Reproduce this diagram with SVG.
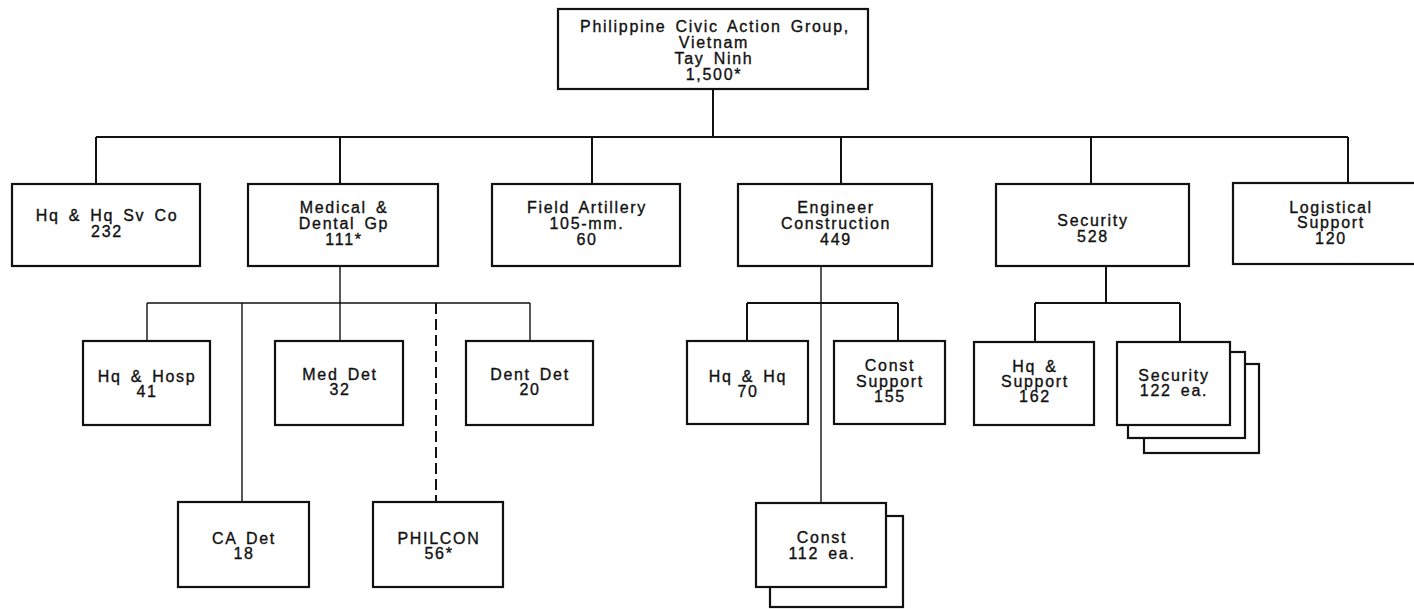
<svg xmlns="http://www.w3.org/2000/svg" width="1414" height="609" viewBox="0 0 1414 609">
<style>
.box{fill:#fff;stroke:#111;stroke-width:2.2}
.ln{fill:none;stroke:#111;stroke-width:2}
.thin{fill:none;stroke:#111;stroke-width:1.4}
.dash{fill:none;stroke:#111;stroke-width:2;stroke-dasharray:11 5}
text{font-family:"Liberation Sans",Arial,sans-serif;font-size:16px;letter-spacing:1.7px;word-spacing:3px;fill:#111;stroke:#111;stroke-width:0.35;text-anchor:middle}
</style>
<rect width="1414" height="609" fill="#fff"/>
<g id="connectors">
<path class="ln" d="M713 89V137M96 137H1348M96 137V184M340 137V184M592 137V184M841 137V184M1091 137V184M1348 137V183"/>
<path class="thin" d="M340 266V341M147 303H530M147 303V341M530 303V341M242 303V502"/>
<path class="dash" d="M436 303V502"/>
<path class="thin" d="M821 266V503"/>
<path class="ln" d="M747 303H898M747 303V341M898 303V341"/>
<path class="ln" d="M1106 266V303M1035 303H1180M1035 303V342M1180 303V342"/>
</g>
<g id="n-top"><rect class="box" x="558" y="9" width="310" height="80"/>
<text x="715" y="32">Philippine Civic Action Group,</text><text x="714" y="48">Vietnam</text><text x="714" y="64">Tay Ninh</text><text x="714" y="80">1,500*</text></g>
<g id="n-hqsv"><rect class="box" x="12" y="184" width="188" height="82"/><text x="107" y="221">Hq &amp; Hq Sv Co</text><text x="107" y="237">232</text></g>
<g id="n-med"><rect class="box" x="248" y="184" width="190" height="82"/><text x="344" y="213">Medical &amp;</text><text x="344" y="229">Dental Gp</text><text x="344" y="245">111*</text></g>
<g id="n-fa"><rect class="box" x="492" y="184" width="188" height="82"/><text x="587" y="213">Field Artillery</text><text x="587" y="229">105-mm.</text><text x="587" y="245">60</text></g>
<g id="n-eng"><rect class="box" x="738" y="184" width="194" height="82"/><text x="836" y="213">Engineer</text><text x="836" y="229">Construction</text><text x="836" y="245">449</text></g>
<g id="n-sec"><rect class="box" x="996" y="184" width="193" height="82"/><text x="1093" y="226">Security</text><text x="1093" y="242">528</text></g>
<g id="n-log"><rect class="box" x="1233" y="183" width="194" height="81"/><text x="1331" y="213">Logistical</text><text x="1331" y="228">Support</text><text x="1331" y="244">120</text></g>
<g id="n-hqhosp"><rect class="box" x="83" y="341" width="127" height="84"/><text x="147" y="382">Hq &amp; Hosp</text><text x="147" y="397">41</text></g>
<g id="n-meddet"><rect class="box" x="275" y="341" width="128" height="84"/><text x="340" y="380">Med Det</text><text x="340" y="395">32</text></g>
<g id="n-dentdet"><rect class="box" x="466" y="341" width="127" height="84"/><text x="530" y="380">Dent Det</text><text x="530" y="395">20</text></g>
<g id="n-cadet"><rect class="box" x="178" y="502" width="131" height="85"/><text x="244" y="544">CA Det</text><text x="244" y="559">18</text></g>
<g id="n-philcon"><rect class="box" x="373" y="502" width="130" height="85"/><text x="439" y="544">PHILCON</text><text x="439" y="559">56*</text></g>
<g id="n-hqhq"><rect class="box" x="687" y="341" width="121" height="83"/><text x="748" y="382">Hq &amp; Hq</text><text x="748" y="397">70</text></g>
<g id="n-constsup"><rect class="box" x="834" y="341" width="111" height="83"/><text x="890" y="371">Const</text><text x="890" y="387">Support</text><text x="890" y="402">155</text></g>
<g id="n-const"><rect class="box" x="770" y="516" width="133" height="91"/><rect class="box" x="756" y="503" width="130" height="84"/><text x="822" y="543">Const</text><text x="822" y="559">112 ea.</text></g>
<g id="n-hqsup"><rect class="box" x="974" y="342" width="120" height="83"/><text x="1035" y="372">Hq &amp;</text><text x="1035" y="387">Support</text><text x="1035" y="402">162</text></g>
<g id="n-secea"><rect class="box" x="1144" y="364" width="115" height="89"/><rect class="box" x="1128" y="352" width="117" height="86"/><rect class="box" x="1117" y="342" width="113" height="83"/><text x="1174" y="381">Security</text><text x="1174" y="396">122 ea.</text></g>
</svg>
